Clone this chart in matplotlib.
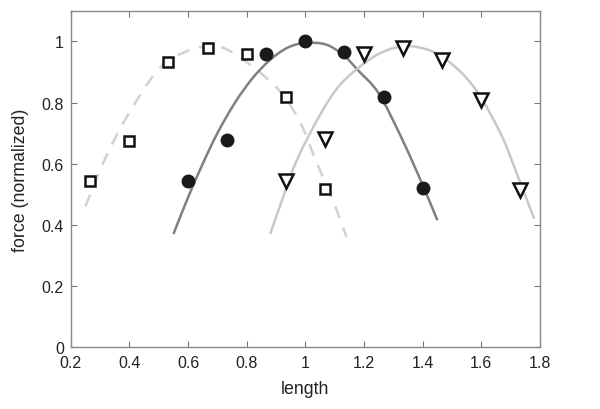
import numpy as np
import matplotlib.pyplot as plt
from matplotlib.path import Path
from matplotlib.patches import PathPatch
from matplotlib.ticker import FuncFormatter

plt.rcParams['font.family'] = ['Liberation Sans', 'DejaVu Sans']

# measured points
sq_x = [0.267, 0.400, 0.533, 0.667, 0.800, 0.933, 1.067]
sq_y = [0.543, 0.674, 0.934, 0.978, 0.960, 0.819, 0.518]
ci_x = [0.600, 0.733, 0.867, 1.000, 1.133, 1.267, 1.400]
ci_y = [0.543, 0.678, 0.960, 1.000, 0.965, 0.818, 0.522]
tr_x = [0.933, 1.067, 1.200, 1.333, 1.467, 1.600, 1.733]
tr_y = [0.545, 0.680, 0.958, 0.980, 0.940, 0.810, 0.515]

# fitted curves
dash_x = [0.25, 0.30, 0.36, 0.44, 0.51, 0.60, 0.68, 0.74, 0.83, 0.91, 0.98, 1.04, 1.09, 1.14]
dash_y = [0.46, 0.58, 0.70, 0.83, 0.92, 0.97, 0.985, 0.97, 0.91, 0.84, 0.74, 0.60, 0.49, 0.36]
dark_x = [0.55, 0.60, 0.65, 0.70, 0.76, 0.82, 0.88, 0.94, 1.00, 1.07, 1.13, 1.18, 1.25, 1.33, 1.40, 1.45]
dark_y = [0.37, 0.49, 0.60, 0.70, 0.80, 0.88, 0.94, 0.98, 0.995, 0.99, 0.955, 0.905, 0.83, 0.68, 0.53, 0.415]
light_x = [0.88, 0.92, 0.97, 1.05, 1.12, 1.21, 1.28, 1.35, 1.42, 1.47, 1.54, 1.60, 1.67, 1.72, 1.78]
light_y = [0.37, 0.48, 0.61, 0.76, 0.86, 0.935, 0.972, 0.985, 0.972, 0.948, 0.89, 0.815, 0.69, 0.57, 0.42]


def smooth_path(xs, ys):
    # Catmull-Rom through the read points, drawn as cubic Bezier segments
    p = np.column_stack([xs, ys]).astype(float)
    ext = np.vstack([2 * p[0] - p[1], p, 2 * p[-1] - p[-2]])
    verts = [p[0]]
    codes = [Path.MOVETO]
    for i in range(1, len(ext) - 2):
        p0, p1, p2, p3 = ext[i - 1], ext[i], ext[i + 1], ext[i + 2]
        verts += [p1 + (p2 - p0) / 6, p2 - (p3 - p1) / 6, p2]
        codes += [Path.CURVE4] * 3
    return Path(verts, codes)


fig = plt.figure(figsize=(6, 4.1), dpi=100)
ax = fig.add_axes([0.118, 0.151, 0.782, 0.820])

ax.add_patch(PathPatch(smooth_path(dash_x, dash_y), fill=False, ec='#d2d2d2', lw=1.8,
                       ls=(0, (5, 4))))
ax.add_patch(PathPatch(smooth_path(dark_x, dark_y), fill=False, ec='#808080', lw=1.8))
ax.add_patch(PathPatch(smooth_path(light_x, light_y), fill=False, ec='#c8c8c8', lw=1.8))

ax.plot(sq_x, sq_y, 's', ms=7.5, mfc='white', mec='#111111', mew=1.8, ls='none')
ax.plot(ci_x, ci_y, 'o', ms=9, mfc='#1a1a1a', mec='#1a1a1a', ls='none')
ax.plot(tr_x, tr_y, 'v', ms=10, mfc='white', mec='#111111', mew=1.8, ls='none')

ax.set_xlim(0.2, 1.8)
ax.set_ylim(0, 1.1)
ax.set_xticks(np.arange(0.2, 1.81, 0.2))
ax.set_yticks(np.arange(0, 1.01, 0.2))
fmt = FuncFormatter(lambda v, p: '%g' % round(v, 2))
ax.xaxis.set_major_formatter(fmt)
ax.yaxis.set_major_formatter(fmt)
ax.tick_params(direction='in', top=True, right=True, length=4, width=0.8,
               color='#777777', labelsize=11.5, labelcolor='#222222')
ax.tick_params(axis='x', pad=6)
ax.tick_params(axis='y', pad=5)
for s in ax.spines.values():
    s.set_color('#888888')
    s.set_linewidth(1.0)

ax.set_xlabel('length', fontsize=12.8, color='#222222', labelpad=7)
ax.set_ylabel('force (normalized)', fontsize=12.8, color='#222222', labelpad=9)

fig.savefig('out.png', dpi=100)
